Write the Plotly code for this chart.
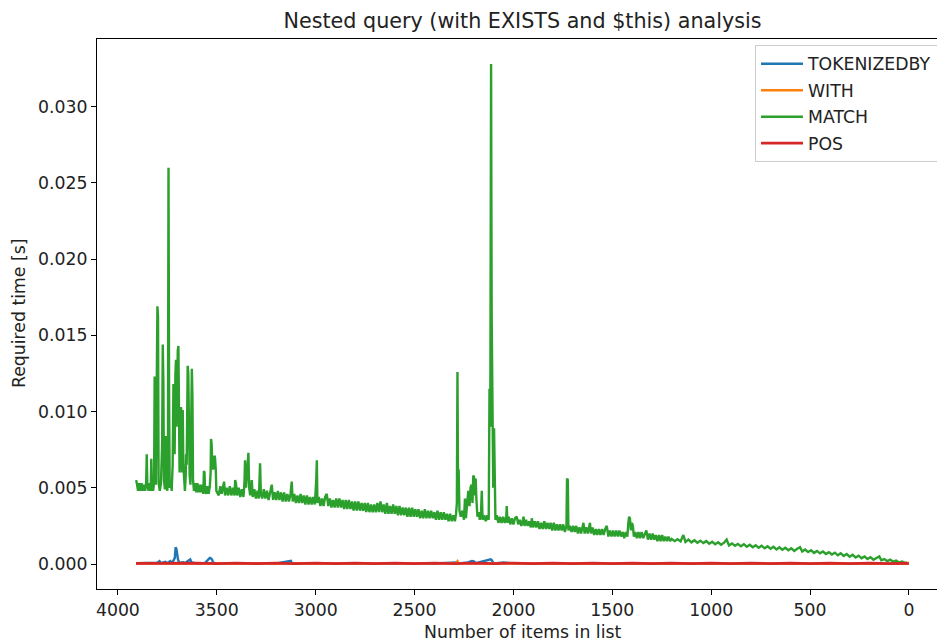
import plotly.graph_objects as go

title_text = "Nested query (with EXISTS and $this) analysis"
x_label = "Number of items in list"
y_label = "Required time [s]"
series_names = ["TOKENIZEDBY", "WITH", "MATCH", "POS"]
series_colors = ["#1f77b4", "#ff7f0e", "#2ca02c", "#d62728"]
x_tick_values = [0, 500, 1000, 1500, 2000, 2500, 3000, 3500, 4000]
y_tick_values = [0.0, 0.005, 0.010, 0.015, 0.020, 0.025, 0.030]
y_tick_labels = ["0.000", "0.005", "0.010", "0.015", "0.020", "0.025", "0.030"]

# (number of items in list, required time [s])
tokenizedby_points = [
    (3908, 0.00005), (3850, 0.00004), (3800, 0.00008), (3790, 0.00018), (3782, 0.00006),
    (3760, 0.00015), (3750, 0.00005), (3735, 0.00020), (3725, 0.00008), (3712, 0.00040),
    (3708, 0.00110), (3704, 0.00100), (3700, 0.00060), (3696, 0.00030), (3690, 0.00007),
    (3670, 0.00012), (3660, 0.00006), (3640, 0.00025), (3634, 0.00030), (3628, 0.00010),
    (3600, 0.00004), (3560, 0.00006), (3535, 0.00040), (3530, 0.00038), (3524, 0.00030),
    (3518, 0.00008), (3500, 0.00004), (3400, 0.00005), (3300, 0.00004), (3280, 0.00008),
    (3200, 0.00004), (3125, 0.00020), (3120, 0.00004), (3000, 0.00004), (2800, 0.00003),
    (2600, 0.00003), (2400, 0.00003), (2290, 0.00010), (2280, 0.00004), (2230, 0.00010),
    (2210, 0.00020), (2200, 0.00018), (2190, 0.00005), (2115, 0.00030), (2110, 0.00025),
    (2100, 0.00004), (2050, 0.00010), (2000, 0.00003), (1500, 0.00003), (1000, 0.00003),
    (500, 0.00002), (1, 0.00002),
]

with_points = [
    (3908, 0.00003), (3700, 0.00005), (3500, 0.00003), (3000, 0.00003), (2500, 0.00003),
    (2290, 0.00004), (2283, 0.00018), (2276, 0.00004), (2000, 0.00003), (1500, 0.00003),
    (1000, 0.00002), (500, 0.00002), (1, 0.00002),
]

match_points = [
    (3908, 0.0055), (3904, 0.0053), (3898, 0.0048), (3892, 0.0053), (3886, 0.0048),
    (3880, 0.0053), (3874, 0.0048), (3868, 0.0052), (3862, 0.0048), (3857, 0.0053),
    (3854, 0.0072), (3851, 0.0052), (3845, 0.0048), (3839, 0.0053), (3834, 0.0048),
    (3831, 0.0069), (3828, 0.0052), (3822, 0.0048), (3817, 0.0053), (3814, 0.0123),
    (3811, 0.0115), (3808, 0.0052), (3804, 0.0160), (3800, 0.0169), (3797, 0.0162),
    (3794, 0.0053), (3788, 0.0048), (3782, 0.0053), (3776, 0.0080), (3773, 0.0144),
    (3770, 0.0120), (3767, 0.0055), (3762, 0.0049), (3758, 0.0084), (3755, 0.0053),
    (3750, 0.0048), (3747, 0.0060), (3744, 0.0260), (3741, 0.0110), (3738, 0.0050),
    (3732, 0.0055), (3728, 0.0048), (3723, 0.0065), (3719, 0.0118), (3716, 0.0105),
    (3713, 0.0072), (3709, 0.0125), (3706, 0.0134), (3703, 0.0090), (3700, 0.0130),
    (3697, 0.0140), (3694, 0.0143), (3691, 0.0110), (3688, 0.0060), (3684, 0.0075),
    (3681, 0.0103), (3678, 0.0098), (3675, 0.0060), (3672, 0.0101), (3669, 0.0065),
    (3665, 0.0052), (3661, 0.0048), (3657, 0.0058), (3655, 0.0072), (3652, 0.0065),
    (3649, 0.0110), (3647, 0.0130), (3644, 0.0125), (3641, 0.0070), (3637, 0.0058),
    (3633, 0.0052), (3629, 0.0118), (3626, 0.0128), (3623, 0.0110), (3620, 0.0055),
    (3615, 0.0048), (3610, 0.0053), (3604, 0.0047), (3598, 0.0053), (3592, 0.0047),
    (3586, 0.0052), (3580, 0.0047), (3574, 0.0052), (3568, 0.0046), (3565, 0.0061),
    (3562, 0.0060), (3559, 0.0048), (3553, 0.0046), (3547, 0.0051), (3541, 0.0046),
    (3535, 0.0051), (3531, 0.0060), (3529, 0.0082), (3526, 0.0079), (3522, 0.0064),
    (3518, 0.0062), (3515, 0.0065), (3512, 0.0071), (3509, 0.0070), (3505, 0.0062),
    (3502, 0.0048), (3490, 0.0045), (3482, 0.0051), (3475, 0.0046), (3468, 0.0050),
    (3463, 0.0054), (3458, 0.0045), (3450, 0.0050), (3442, 0.0045), (3434, 0.0051),
    (3426, 0.0045), (3418, 0.0050), (3410, 0.0045), (3407, 0.0055), (3403, 0.0053),
    (3397, 0.0045), (3389, 0.0050), (3381, 0.0044), (3373, 0.0049), (3365, 0.0044),
    (3360, 0.0053), (3357, 0.0068), (3352, 0.0050), (3346, 0.0059), (3340, 0.0073),
    (3336, 0.0050), (3331, 0.0045), (3323, 0.0055), (3318, 0.0044), (3310, 0.0049),
    (3302, 0.0043), (3294, 0.0048), (3287, 0.0043), (3281, 0.0066), (3277, 0.0046),
    (3270, 0.0043), (3262, 0.0049), (3254, 0.0043), (3246, 0.0048), (3238, 0.0042),
    (3230, 0.0048), (3222, 0.0052), (3215, 0.0042), (3207, 0.0047), (3199, 0.0042),
    (3191, 0.0048), (3183, 0.0042), (3175, 0.0047), (3167, 0.0041), (3159, 0.0047),
    (3151, 0.0041), (3143, 0.0046), (3135, 0.0041), (3127, 0.0046), (3121, 0.0054),
    (3116, 0.0041), (3108, 0.0046), (3100, 0.0040), (3092, 0.0045), (3084, 0.0040),
    (3076, 0.0046), (3068, 0.0040), (3060, 0.0045), (3052, 0.0039), (3044, 0.0045),
    (3036, 0.0039), (3028, 0.0044), (3020, 0.0039), (3012, 0.0044), (3004, 0.0039),
    (2997, 0.0055), (2994, 0.0068), (2991, 0.0040), (2984, 0.0044), (2976, 0.0038),
    (2968, 0.0043), (2960, 0.0038), (2952, 0.0044), (2944, 0.0046), (2936, 0.0038),
    (2928, 0.0043), (2920, 0.0037), (2912, 0.0042), (2904, 0.0037), (2896, 0.0043),
    (2888, 0.0037), (2880, 0.0043), (2872, 0.0037), (2864, 0.0042), (2856, 0.0036),
    (2848, 0.0042), (2840, 0.0036), (2832, 0.0042), (2824, 0.0036), (2816, 0.0041),
    (2808, 0.0035), (2800, 0.0041), (2792, 0.0035), (2784, 0.0041), (2776, 0.0035),
    (2768, 0.0040), (2760, 0.0035), (2752, 0.0040), (2744, 0.0034), (2736, 0.0040),
    (2728, 0.0034), (2720, 0.0039), (2712, 0.0034), (2704, 0.0039), (2696, 0.0034),
    (2688, 0.0040), (2680, 0.0034), (2672, 0.0041), (2664, 0.0034), (2656, 0.0039),
    (2648, 0.0033), (2640, 0.0040), (2632, 0.0033), (2624, 0.0038), (2616, 0.0033),
    (2608, 0.0039), (2600, 0.0033), (2592, 0.0038), (2584, 0.0032), (2576, 0.0038),
    (2568, 0.0032), (2560, 0.0037), (2552, 0.0032), (2544, 0.0037), (2536, 0.0031),
    (2528, 0.0037), (2520, 0.0031), (2512, 0.0037), (2504, 0.0031), (2496, 0.0036),
    (2488, 0.0031), (2480, 0.0036), (2472, 0.0030), (2464, 0.0035), (2456, 0.0030),
    (2448, 0.0036), (2440, 0.0030), (2432, 0.0035), (2424, 0.0030), (2416, 0.0035),
    (2408, 0.0030), (2400, 0.0034), (2392, 0.0029), (2384, 0.0035), (2376, 0.0029),
    (2368, 0.0034), (2360, 0.0029), (2352, 0.0034), (2344, 0.0029), (2336, 0.0033),
    (2328, 0.0028), (2320, 0.0033), (2312, 0.0028), (2304, 0.0032), (2296, 0.0028),
    (2290, 0.0033), (2286, 0.0040), (2283, 0.0126), (2280, 0.0050), (2277, 0.0062),
    (2273, 0.0035), (2266, 0.0031), (2258, 0.0035), (2250, 0.0029), (2245, 0.0043),
    (2240, 0.0030), (2234, 0.0040), (2228, 0.0048), (2222, 0.0038), (2217, 0.0050),
    (2212, 0.0052), (2207, 0.0040), (2203, 0.0058), (2199, 0.0057), (2195, 0.0045),
    (2191, 0.0056), (2187, 0.0042), (2182, 0.0031), (2176, 0.0034), (2170, 0.0029),
    (2164, 0.0033), (2160, 0.0048), (2156, 0.0029), (2148, 0.0032), (2140, 0.0028),
    (2132, 0.0032), (2125, 0.0029), (2121, 0.0115), (2117, 0.0090), (2113, 0.0328),
    (2110, 0.0163), (2106, 0.0120), (2102, 0.0050), (2098, 0.0089), (2095, 0.0057),
    (2091, 0.0029), (2084, 0.0032), (2076, 0.0027), (2068, 0.0031), (2060, 0.0027),
    (2052, 0.0031), (2044, 0.0027), (2036, 0.0031), (2034, 0.0038), (2030, 0.0027),
    (2024, 0.0031), (2016, 0.0026), (2008, 0.0030), (2000, 0.0026), (1992, 0.0030),
    (1983, 0.0031), (1976, 0.0026), (1968, 0.0029), (1960, 0.0025), (1952, 0.0029),
    (1949, 0.0031), (1944, 0.0025), (1936, 0.0029), (1928, 0.0025), (1920, 0.0028),
    (1912, 0.0024), (1907, 0.0030), (1900, 0.0024), (1892, 0.0028), (1884, 0.0024),
    (1876, 0.0028), (1868, 0.0023), (1860, 0.0027), (1852, 0.0023), (1844, 0.0028),
    (1836, 0.0023), (1828, 0.0027), (1820, 0.0023), (1812, 0.0027), (1804, 0.0022),
    (1796, 0.0027), (1788, 0.0022), (1780, 0.0026), (1772, 0.0022), (1764, 0.0026),
    (1756, 0.0022), (1748, 0.0026), (1740, 0.0021), (1732, 0.0025), (1729, 0.0056),
    (1725, 0.0055), (1722, 0.0022), (1714, 0.0025), (1706, 0.0021), (1698, 0.0025),
    (1690, 0.0021), (1682, 0.0025), (1674, 0.0020), (1666, 0.0024), (1658, 0.0020),
    (1650, 0.0024), (1646, 0.0027), (1640, 0.0020), (1632, 0.0024), (1624, 0.0020),
    (1616, 0.0025), (1613, 0.0027), (1608, 0.0020), (1600, 0.0024), (1592, 0.0019),
    (1584, 0.0023), (1576, 0.0019), (1568, 0.0023), (1560, 0.0019), (1552, 0.0023),
    (1544, 0.0019), (1536, 0.0023), (1528, 0.0025), (1520, 0.0018), (1512, 0.0022),
    (1504, 0.0018), (1496, 0.0022), (1488, 0.0018), (1480, 0.0022), (1472, 0.0018),
    (1464, 0.0022), (1456, 0.0018), (1448, 0.0021), (1440, 0.0017), (1432, 0.0021),
    (1424, 0.0018), (1419, 0.0027), (1415, 0.0031), (1411, 0.0030), (1406, 0.0022),
    (1401, 0.0027), (1396, 0.0025), (1391, 0.0018), (1384, 0.0021), (1376, 0.0017),
    (1368, 0.0021), (1360, 0.0017), (1352, 0.0021), (1344, 0.0017), (1336, 0.0020),
    (1328, 0.0022), (1320, 0.0016), (1312, 0.0020), (1304, 0.0016), (1296, 0.0020),
    (1288, 0.0016), (1280, 0.0019), (1272, 0.0015), (1264, 0.0019), (1256, 0.0015),
    (1248, 0.0019), (1240, 0.0015), (1232, 0.0018), (1224, 0.0015), (1216, 0.0018),
    (1208, 0.0015), (1200, 0.00165), (1185, 0.0015), (1170, 0.00163), (1155, 0.00148),
    (1141, 0.0019), (1130, 0.00145), (1115, 0.0016), (1100, 0.00142), (1085, 0.00156),
    (1070, 0.0014), (1055, 0.00153), (1040, 0.00137), (1025, 0.0015), (1010, 0.00133),
    (995, 0.00146), (980, 0.0013), (965, 0.00143), (950, 0.00127), (935, 0.0014),
    (922, 0.0016), (910, 0.00122), (895, 0.00135), (880, 0.0012), (865, 0.00132),
    (850, 0.00116), (835, 0.0013), (820, 0.00113), (805, 0.00126), (790, 0.0011),
    (775, 0.00123), (760, 0.00106), (745, 0.0012), (730, 0.00103), (715, 0.00116),
    (700, 0.001), (685, 0.00113), (670, 0.00096), (655, 0.0011), (640, 0.00093),
    (625, 0.00106), (610, 0.0009), (595, 0.00103), (580, 0.00086), (565, 0.001),
    (551, 0.0011), (540, 0.00082), (525, 0.00095), (510, 0.00078), (495, 0.0009),
    (480, 0.00073), (465, 0.00086), (450, 0.0007), (435, 0.00082), (420, 0.00066),
    (405, 0.00078), (390, 0.00062), (375, 0.00074), (360, 0.00057), (345, 0.0007),
    (330, 0.00053), (315, 0.00065), (300, 0.00048), (285, 0.0006), (270, 0.00043),
    (255, 0.00055), (240, 0.00038), (225, 0.0005), (210, 0.00033), (195, 0.00045),
    (180, 0.00028), (165, 0.0004), (150, 0.0005), (140, 0.00024), (125, 0.00032),
    (110, 0.00019), (95, 0.00028), (80, 0.00015), (65, 0.00022), (50, 0.0001),
    (35, 0.00016), (20, 0.00007), (10, 0.00009),
]

pos_points = [
    (3908, 0.00004), (3800, 0.00006), (3700, 0.00003), (3600, 0.00006), (3500, 0.00003),
    (3400, 0.00006), (3300, 0.00003), (3200, 0.00006), (3100, 0.00003), (3000, 0.00006),
    (2900, 0.00003), (2800, 0.00006), (2700, 0.00003), (2600, 0.00006), (2500, 0.00003),
    (2400, 0.00006), (2300, 0.00003), (2200, 0.00006), (2100, 0.00003), (2000, 0.00006),
    (1900, 0.00003), (1800, 0.00006), (1700, 0.00003), (1600, 0.00006), (1500, 0.00003),
    (1400, 0.00006), (1300, 0.00003), (1200, 0.00006), (1100, 0.00003), (1000, 0.00006),
    (900, 0.00003), (800, 0.00006), (700, 0.00003), (600, 0.00006), (500, 0.00003),
    (400, 0.00006), (300, 0.00003), (200, 0.00006), (100, 0.00003), (1, 0.00005),
]

all_series = [tokenizedby_points, with_points, match_points, pos_points]

FONT = "DejaVu Sans"
FS = 17.3
W, H = 937, 642
L, R, T, B = 97, 0, 39, 53
plot_w = W - L - R
plot_h = H - T - B

fig = go.Figure()
for name, color, pts in zip(series_names, series_colors, all_series):
    xs = [p[0] for p in pts]
    ys = [p[1] for p in pts]
    fig.add_trace(go.Scatter(
        x=xs, y=ys, mode="lines", name=name, legendgroup=name,
        line=dict(color=color, width=2.4 if name != "POS" else 2.8),
    ))

axis_common = dict(
    showgrid=False, zeroline=False, showline=True, linecolor="black", linewidth=1,
    ticks="outside", ticklen=5, tickwidth=1, tickcolor="black",
    tickfont=dict(family=FONT, size=FS, color="#222222"),
)

fig.update_layout(
    width=W, height=H,
    margin=dict(l=L, r=R, t=T, b=B, pad=0, autoexpand=False),
    paper_bgcolor="white", plot_bgcolor="white",
    font=dict(family=FONT, size=FS, color="#222222"),
    title=dict(text=title_text, x=(522.5 - L) / plot_w, xref="paper", xanchor="center",
               y=1 - 21 / H, yref="container", yanchor="middle",
               font=dict(family=FONT, size=20.7, color="#222222")),
    xaxis=dict(range=[4105.5, -141.6], tickvals=x_tick_values, mirror=True, **axis_common),
    yaxis=dict(range=[-0.00164, 0.03444], tickvals=y_tick_values, ticktext=y_tick_labels,
               mirror=False, **axis_common),
    showlegend=True,
    legend=dict(x=(755 - L) / plot_w, xanchor="left", y=1 - (45 - T) / plot_h, yanchor="top",
                bgcolor="rgba(255,255,255,0.8)", bordercolor="#cccccc", borderwidth=1,
                font=dict(family=FONT, size=FS, color="#222222"),
                traceorder="grouped", tracegroupgap=1, itemwidth=42),
    annotations=[
        dict(text=x_label, xref="paper", yref="paper", x=(522.5 - L) / plot_w,
             y=(589 - 632) / plot_h, xanchor="center", yanchor="middle", showarrow=False,
             font=dict(family=FONT, size=FS, color="#222222")),
        dict(text=y_label, xref="paper", yref="paper", x=(19 - L) / plot_w,
             y=0.5, xanchor="center", yanchor="middle", showarrow=False, textangle=-90,
             font=dict(family=FONT, size=FS, color="#222222")),
    ],
)

fig.write_html("out.html", config={"displayModeBar": False},
               post_script="document.body.style.margin='0';document.body.style.overflow='hidden';")
